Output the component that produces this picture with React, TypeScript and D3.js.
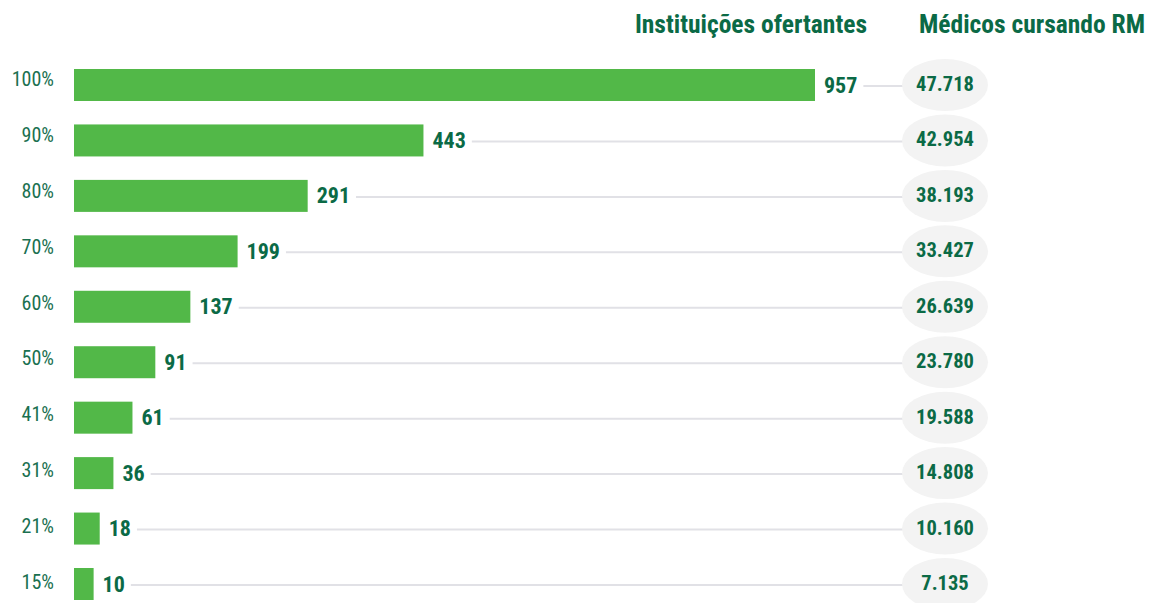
import React, { useEffect, useRef } from "react";
import * as d3 from "d3";

const categories = ["100%", "90%", "80%", "70%", "60%", "50%", "41%", "31%", "21%", "15%"];
const institutions = [957, 443, 291, 199, 137, 91, 61, 36, 18, 10];
const doctors = ["47.718", "42.954", "38.193", "33.427", "26.639", "23.780", "19.588", "14.808", "10.160", "7.135"];
const headerLeft = "Instituições ofertantes";
const headerRight = "Médicos cursando RM";

const W = 1159;
const H = 603;
const FONT = "'Liberation Sans Narrow', 'Roboto Condensed', 'DejaVu Sans Condensed', Roboto, sans-serif";
const DARK = "#0b6a46";
const BAR = "#52b848";

export default function App() {
  const ref = useRef<SVGSVGElement | null>(null);

  useEffect(() => {
    const svg = d3.select(ref.current);
    svg.selectAll("*").remove();

    const x0 = 74;
    const x = d3.scaleLinear().domain([0, 957]).range([86, 815]);
    const y = d3.scalePoint<string>().domain(categories).range([85, 584]);
    const yLab = d3.scalePoint<string>().domain(categories).range([86, 589]);
    const barH = 32;
    const ellCx = 945;
    const rx = 43;
    const ry = 26;

    // headers
    svg.append("text")
      .attr("x", 867).attr("y", 33)
      .attr("text-anchor", "end")
      .attr("font-family", FONT).attr("font-weight", 700).attr("font-size", 25.5)
      .attr("fill", DARK).text(headerLeft);
    svg.append("text")
      .attr("x", 919).attr("y", 33)
      .attr("font-family", FONT).attr("font-weight", 700).attr("font-size", 25.5)
      .attr("fill", DARK).text(headerRight);

    const rows = svg.selectAll("g.row")
      .data(categories.map((c, i) => ({ c, v: institutions[i], d: doctors[i] })))
      .join("g").attr("class", "row");

    rows.append("text")
      .attr("x", 54).attr("y", (d) => yLab(d.c)!)
      .attr("text-anchor", "end")
      .attr("font-family", FONT).attr("font-weight", 400).attr("font-size", 20)
      .attr("fill", "#1a7050").text((d) => d.c);

    rows.append("rect")
      .attr("x", x0).attr("y", (d) => y(d.c)! - barH / 2)
      .attr("width", (d) => x(d.v) - x0).attr("height", barH)
      .attr("fill", BAR);

    rows.append("ellipse")
      .attr("cx", ellCx).attr("cy", (d) => y(d.c)!)
      .attr("rx", rx).attr("ry", ry)
      .attr("fill", "#f3f3f3");

    rows.append("text")
      .attr("x", ellCx).attr("y", (d) => y(d.c)! + 6)
      .attr("text-anchor", "middle")
      .attr("font-family", FONT).attr("font-weight", 700).attr("font-size", 20.5)
      .attr("fill", DARK).text((d) => d.d);

    rows.each(function (d) {
      const g = d3.select(this);
      const lx = x(d.v) + 9;
      const t = g.append("text")
        .attr("x", lx).attr("y", y(d.c)! + 7.5)
        .attr("font-family", FONT).attr("font-weight", 700).attr("font-size", 22)
        .attr("fill", DARK).text(d.v);
      const w = (t.node() as SVGTextElement).getComputedTextLength();
      g.insert("line", "ellipse")
        .attr("x1", lx + w + 6).attr("x2", ellCx - rx + 2)
        .attr("y1", y(d.c)! + 1).attr("y2", y(d.c)! + 1)
        .attr("stroke", "#e1e1e6").attr("stroke-width", 2);
    });
  }, []);

  return (
    <svg ref={ref} width={W} height={H}
      style={{ position: "absolute", left: 0, top: 0, background: "#fff" }} />
  );
}
